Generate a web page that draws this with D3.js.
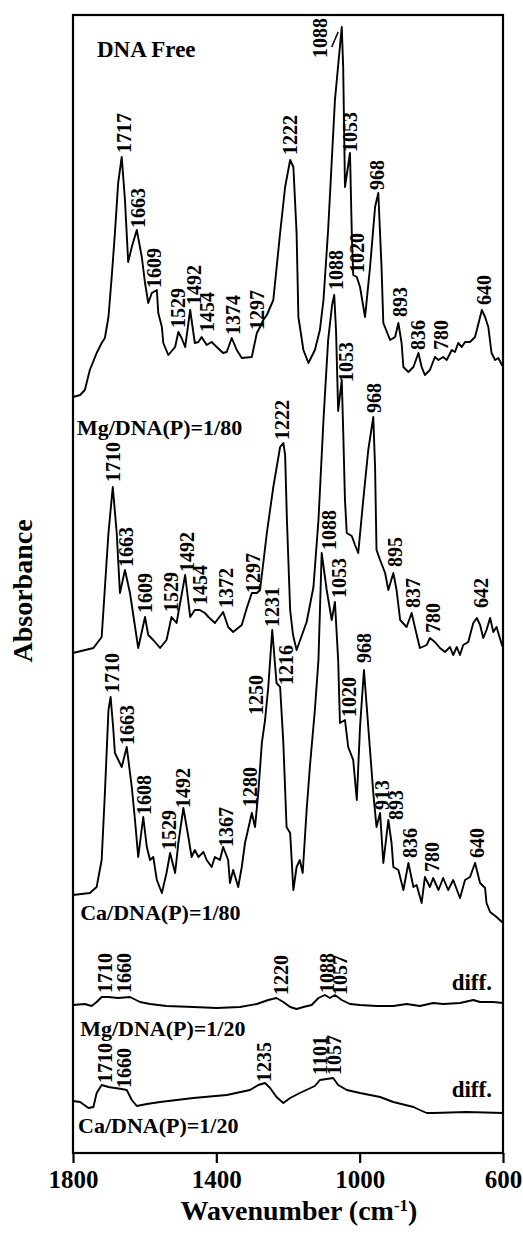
<!DOCTYPE html>
<html>
<head>
<meta charset="utf-8">
<script src="https://cdn.jsdelivr.net/npm/d3@7"></script>
<style>
    body { margin: 0; background: #fff; }
    .peak { font-weight: bold; font-size: 20px; }
    .name { font-weight: bold; font-size: 22px; }
</style>
</head>
<body>
<div id="container"><svg></svg></div>
<script>
let width = 523;
let height = 1240;
let fontFamily = '"Liberation Serif","Times New Roman",serif';

// spectra: [wavenumber, relative absorbance]
let dnaFree = [[1800,0.01],[1780,0.03],[1767,0.08],[1753,0.28],[1734,0.45],[1720,0.55],[1711,0.60],[1701,0.81],[1692,1.21],[1683,1.65],[1674,2.15],[1664,2.41],[1655,1.98],[1646,1.36],[1636,1.51],[1622,1.68],[1608,1.41],[1599,1.15],[1590,0.95],[1580,1.05],[1566,1.08],[1562,0.85],[1552,0.71],[1548,0.55],[1534,0.43],[1515,0.51],[1506,0.66],[1497,0.60],[1487,0.51],[1473,0.88],[1460,0.55],[1450,0.56],[1441,0.61],[1427,0.53],[1413,0.56],[1399,0.51],[1381,0.45],[1371,0.46],[1357,0.60],[1343,0.48],[1329,0.40],[1301,0.41],[1287,0.65],[1278,0.71],[1269,0.78],[1259,0.83],[1241,0.98],[1222,1.65],[1208,2.11],[1194,2.38],[1185,2.31],[1176,1.65],[1171,0.81],[1157,0.48],[1143,0.35],[1125,0.48],[1111,0.68],[1101,0.98],[1088,1.68],[1069,2.98],[1050,3.71],[1046,3.31],[1041,2.11],[1027,2.45],[1022,1.65],[1018,1.23],[1008,1.21],[999,1.11],[985,0.81],[971,1.31],[957,1.91],[948,2.05],[939,1.31],[934,0.75],[915,0.58],[901,0.61],[892,0.75],[883,0.55],[878,0.31],[864,0.26],[850,0.31],[836,0.45],[827,0.31],[818,0.23],[804,0.28],[790,0.41],[780,0.38],[767,0.41],[757,0.38],[743,0.48],[734,0.46],[725,0.55],[715,0.51],[706,0.56],[692,0.56],[678,0.61],[659,0.88],[650,0.81],[641,0.71],[632,0.45],[622,0.38],[613,0.40],[603,0.33],[600,0.33]];

let mg80 = [[1800,0.04],[1743,0.09],[1720,0.20],[1715,0.47],[1706,0.97],[1701,1.24],[1689,1.70],[1678,1.24],[1669,0.64],[1655,0.87],[1641,0.64],[1618,0.09],[1599,0.40],[1590,0.22],[1576,0.17],[1557,0.09],[1539,0.17],[1525,0.40],[1511,0.34],[1487,0.82],[1473,0.40],[1460,0.47],[1446,0.47],[1432,0.44],[1422,0.40],[1404,0.34],[1381,0.45],[1367,0.30],[1353,0.25],[1329,0.32],[1315,0.49],[1301,0.64],[1287,0.64],[1278,0.67],[1259,1.24],[1241,1.70],[1222,2.10],[1213,2.14],[1208,2.02],[1203,1.37],[1194,0.47],[1186,0.22],[1176,0.07],[1148,0.35],[1129,0.70],[1115,1.37],[1101,2.37],[1088,3.17],[1077,3.52],[1071,3.62],[1066,3.27],[1060,2.46],[1050,2.77],[1046,2.27],[1041,1.57],[1036,1.24],[1022,1.21],[1013,1.12],[1004,1.04],[990,1.57],[976,2.07],[962,2.40],[957,1.90],[953,1.07],[943,0.97],[929,0.84],[920,0.67],[906,0.84],[897,0.67],[887,0.37],[869,0.30],[855,0.44],[846,0.30],[832,0.09],[813,0.12],[804,0.19],[790,0.15],[776,0.09],[762,0.05],[748,0.10],[739,0.02],[729,0.10],[720,0.02],[711,0.12],[697,0.15],[683,0.34],[673,0.39],[664,0.32],[655,0.19],[646,0.27],[636,0.39],[627,0.25],[618,0.30],[603,0.12],[600,0.10]];

let ca80 = [[1800,0.27],[1753,0.29],[1734,0.35],[1720,0.62],[1711,1.29],[1701,2.12],[1695,2.25],[1688,1.95],[1683,1.69],[1664,1.55],[1650,1.75],[1636,1.35],[1627,1.02],[1618,0.65],[1604,1.05],[1594,0.75],[1585,0.62],[1576,0.65],[1566,0.42],[1552,0.29],[1539,0.49],[1529,0.69],[1515,0.49],[1506,0.79],[1492,1.14],[1478,0.85],[1469,0.65],[1460,0.72],[1450,0.65],[1436,0.70],[1427,0.62],[1413,0.55],[1404,0.65],[1390,0.62],[1381,0.75],[1367,0.62],[1362,0.39],[1353,0.52],[1339,0.35],[1329,0.55],[1320,0.79],[1301,1.09],[1292,0.95],[1283,1.29],[1273,1.79],[1264,2.02],[1255,2.35],[1244,2.92],[1232,2.39],[1222,2.35],[1213,1.79],[1204,0.95],[1194,0.89],[1185,0.32],[1176,0.55],[1167,0.62],[1159,0.49],[1148,1.12],[1139,1.55],[1125,2.12],[1115,2.62],[1106,3.69],[1092,3.32],[1078,3.02],[1069,3.20],[1060,2.62],[1055,1.99],[1041,2.02],[1032,1.75],[1018,1.62],[1008,1.22],[999,1.95],[988,2.52],[976,1.95],[962,1.29],[953,0.95],[943,1.09],[934,0.59],[920,1.02],[911,0.79],[906,0.55],[892,0.52],[878,0.32],[864,0.59],[850,0.35],[841,0.37],[827,0.19],[818,0.45],[804,0.35],[795,0.44],[780,0.32],[767,0.44],[753,0.32],[739,0.42],[720,0.24],[706,0.42],[692,0.45],[678,0.59],[664,0.39],[650,0.34],[646,0.19],[636,0.10],[618,0.05],[603,0.00],[600,0.00]];

let mg20diff = [[1800,0.05],[1767,0.06],[1748,0.04],[1734,0.08],[1720,0.13],[1701,0.13],[1674,0.12],[1641,0.13],[1613,0.08],[1585,0.06],[1539,0.04],[1464,0.03],[1399,0.02],[1334,0.03],[1287,0.06],[1255,0.10],[1232,0.12],[1213,0.08],[1194,0.03],[1176,0.01],[1157,0.03],[1134,0.05],[1115,0.12],[1097,0.15],[1083,0.12],[1069,0.15],[1050,0.10],[1027,0.06],[999,0.05],[953,0.04],[906,0.04],[869,0.06],[832,0.04],[795,0.07],[767,0.06],[720,0.07],[683,0.10],[664,0.08],[627,0.08],[600,0.07]];

let ca20diff = [[1800,0.14],[1780,0.13],[1757,0.07],[1743,0.08],[1734,0.22],[1720,0.30],[1701,0.28],[1683,0.27],[1664,0.26],[1650,0.25],[1636,0.15],[1622,0.09],[1594,0.11],[1557,0.13],[1464,0.17],[1371,0.20],[1306,0.25],[1283,0.30],[1264,0.32],[1250,0.27],[1232,0.18],[1213,0.12],[1194,0.17],[1167,0.22],[1143,0.26],[1125,0.29],[1111,0.35],[1092,0.36],[1074,0.37],[1060,0.30],[1036,0.25],[999,0.22],[943,0.18],[906,0.13],[850,0.08],[832,0.05],[813,0.02],[795,0.02],[701,0.03],[600,0.02]];

// peak labels: [text, wavenumber, relative absorbance at label foot]
let dnaFreePeaks = [['1717',1658,2.45],['1663',1620,1.70],['1609',1573,1.10],['1529',1507,0.70],['1492',1462,0.93],['1454',1426,0.66],['1374',1353,0.63],['1297',1287,0.68],['1222',1194,2.43],['1088',1111,3.40],['1053',1027,2.46],['1020',1007,1.25],['968',952,2.08],['893',887,0.81],['836',837,0.48],['780',773,0.48],['640',653,0.93]];
let mg80Peaks = [['1710',1688,1.75],['1663',1652,0.90],['1609',1599,0.44],['1529',1527,0.45],['1492',1482,0.85],['1454',1446,0.52],['1372',1373,0.49],['1297',1298,0.64],['1222',1217,2.17],['1088',1066,3.67],['1053',1038,2.75],['968',960,2.44],['895',901,0.90],['837',851,0.49],['780',795,0.24],['642',661,0.49]];
let ca80Peaks = [['1710',1691,2.29],['1663',1649,1.77],['1608',1602,1.07],['1529',1533,0.72],['1492',1493,1.14],['1367',1373,0.75],['1280',1306,1.15],['1250',1289,2.07],['1231',1245,2.95],['1216',1206,2.37],['1088',1086,3.72],['1053',1058,3.24],['1020',1030,2.05],['968',988,2.59],['913',938,1.12],['893',899,1.02],['836',860,0.64],['780',798,0.50],['640',673,0.64]];
let mg20Peaks = [['1710',1711,0.17],['1660',1658,0.17],['1220',1220,0.15],['1088',1091,0.17],['1057',1055,0.15]];
let ca20Peaks = [['1710',1711,0.32],['1660',1658,0.27],['1235',1267,0.33],['1101',1111,0.40],['1057',1072,0.40]];

let traceNames = ['DNA Free', 'Mg/DNA(P)=1/80', 'Ca/DNA(P)=1/80', 'Mg/DNA(P)=1/20', 'Ca/DNA(P)=1/20'];
let traceOffsets = [7.55, 4.96, 2.31, 1.43, 0.38];
let tickValues = [1800, 1400, 1000, 600];

function draw_main() {
    let padding = { 'left': 73, 'right': 20, 'top': 15, 'bottom': 87 };
    let svg = d3.select('#container')
        .select('svg')
        .attr('width', width)
        .attr('height', height)
        .style('font-family', fontFamily);

    let x = d3.scaleLinear()
        .domain([1800, 600])
        .range([padding.left, width - padding.right]);
    let y = d3.scaleLinear()
        .domain([0, 11.38])
        .range([height - padding.bottom, padding.top]);

    let traces = [dnaFree, mg80, ca80, mg20diff, ca20diff];
    let peaks = [dnaFreePeaks, mg80Peaks, ca80Peaks, mg20Peaks, ca20Peaks];
    // where each trace name sits: [wavenumber, absolute level of baseline]
    let namePos = [[1733, 10.96], [1789, 7.18], [1780, 2.33], [1780, 1.17], [1786, 0.20]];

    // frame
    svg.append('rect')
        .attr('x', x(1800))
        .attr('y', padding.top)
        .attr('width', x(600) - x(1800))
        .attr('height', y(0) - padding.top)
        .attr('fill', 'none')
        .attr('stroke', '#000')
        .attr('stroke-width', 2.2);

    // x axis
    let axis_x = d3.axisBottom(x)
        .tickValues(tickValues)
        .tickSizeInner(10)
        .tickSizeOuter(0)
        .tickPadding(7)
        .tickFormat(d => d);
    let xa = svg.append('g')
        .attr('transform', `translate(0, ${y(0)})`)
        .call(axis_x);
    xa.select('.domain').remove();
    xa.selectAll('line').attr('stroke-width', 2.2);
    xa.selectAll('text')
        .attr('font-family', fontFamily)
        .attr('font-weight', 'bold')
        .attr('font-size', '25px')
        .attr('fill', '#000');

    let xt = svg.append('text')
        .attr('x', 299)
        .attr('y', 1220)
        .attr('text-anchor', 'middle')
        .attr('font-weight', 'bold')
        .attr('font-size', '28px')
        .text('Wavenumber (cm');
    xt.append('tspan')
        .attr('baseline-shift', 'super')
        .attr('font-size', '17px')
        .text('-1');
    xt.append('tspan').text(')');

    svg.append('text')
        .attr('transform', `translate(32, 591) rotate(-90)`)
        .attr('text-anchor', 'middle')
        .attr('font-weight', 'bold')
        .attr('font-size', '28px')
        .text('Absorbance');

    let line = d3.line()
        .x(d => x(d[0]))
        .y(d => y(d[1]));

    traces.forEach((t, i) => {
        let off = traceOffsets[i];
        svg.append('path')
            .datum(t.map(d => [d[0], d[1] + off]))
            .attr('d', line)
            .attr('fill', 'none')
            .attr('stroke', '#000')
            .attr('stroke-width', 1.9)
            .attr('stroke-linejoin', 'round');

        // peak labels, vertical
        svg.append('g')
            .selectAll('text')
            .data(peaks[i])
            .enter().append('text')
            .attr('class', 'peak')
            .attr('transform', d => `translate(${x(d[1])}, ${y(d[2] + off)}) rotate(-90)`)
            .attr('dy', '0.35em')
            .text(d => d[0]);

        svg.append('text')
            .attr('class', 'name')
            .attr('x', x(namePos[i][0]))
            .attr('y', y(namePos[i][1]))
            .style('font-size', i == 0 ? '23px' : null)
            .text(traceNames[i]);
    });

    // leader for the top 1088 label
    svg.append('line')
        .attr('x1', x(1078)).attr('y1', y(3.51 + traceOffsets[0]))
        .attr('x2', x(1060)).attr('y2', y(3.66 + traceOffsets[0]))
        .attr('stroke', '#000')
        .attr('stroke-width', 1.5);

    // "diff." marks on the two difference spectra
    [[631, 1.63], [631, 0.56]].forEach(p => {
        svg.append('text')
            .attr('class', 'name')
            .attr('x', x(p[0]))
            .attr('y', y(p[1]))
            .attr('text-anchor', 'end')
            .style('font-size', '23px')
            .text('diff.');
    });
}

draw_main();
</script>
</body>
</html>
